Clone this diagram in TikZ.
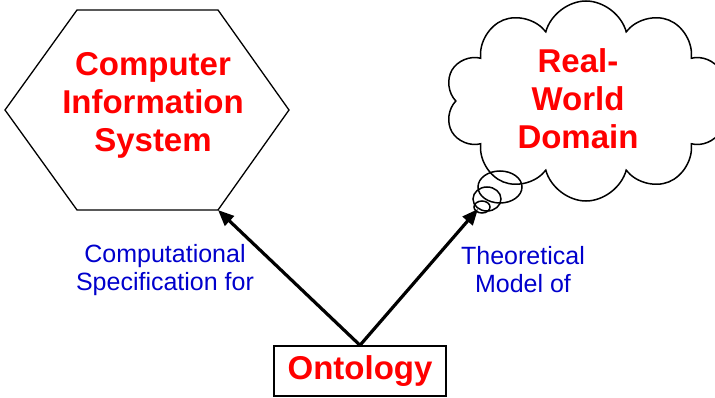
\documentclass[tikz,border=0pt]{standalone}
\usepackage{fontspec}
\setmainfont{Liberation Sans}
\usetikzlibrary{shapes.symbols,arrows.meta}

\begin{document}
\begin{tikzpicture}[x=1pt,y=-1pt,
  title/.style={text=red,font=\fontsize{33}{38}\selectfont\bfseries,align=center},
  relation/.style={text=blue!80!black,font=\fontsize{25}{28}\selectfont,align=center},
  link/.style={line width=3.2pt,-{Triangle[length=16pt,width=13pt]}}]
  \useasboundingbox (0,0) rectangle (715,398);
  \draw [line width=1.3pt] (5,110) -- (77,10) -- (218,10) -- (289,110) -- (218,210) coordinate (hexcorner) -- (77,210) -- cycle;
  \node [title] (cis) at (153,105) {Computer\\Information\\System};
  \node [cloud, draw, line width=1.5pt, cloud puffs=10, aspect=1.44, minimum width=282pt, minimum height=200pt] (domain) at (586,101) {};
  \node [title] (domaintext) at (578,99) {Real-\\World\\Domain};
  \draw [line width=1.5pt] (500,187) ellipse [x radius=22pt, y radius=16pt];
  \draw [line width=1.5pt] (487,199) ellipse [x radius=14pt, y radius=12pt];
  \draw [line width=1.5pt] (482,207) ellipse [x radius=8pt, y radius=6pt];
  \coordinate (bubble) at (478,209);
  \node [draw, line width=1.5pt, minimum width=172pt, minimum height=50pt, title] (onto) at (360,371) {Ontology};
  \draw [link] (onto.north) -- (hexcorner);
  \draw [link] (onto.north) -- (bubble);
  \node [relation] (spec) at (165,270) {Computational\\Specification for};
  \node [relation] (model) at (523,270) {Theoretical\\Model of};
\end{tikzpicture}
\end{document}
